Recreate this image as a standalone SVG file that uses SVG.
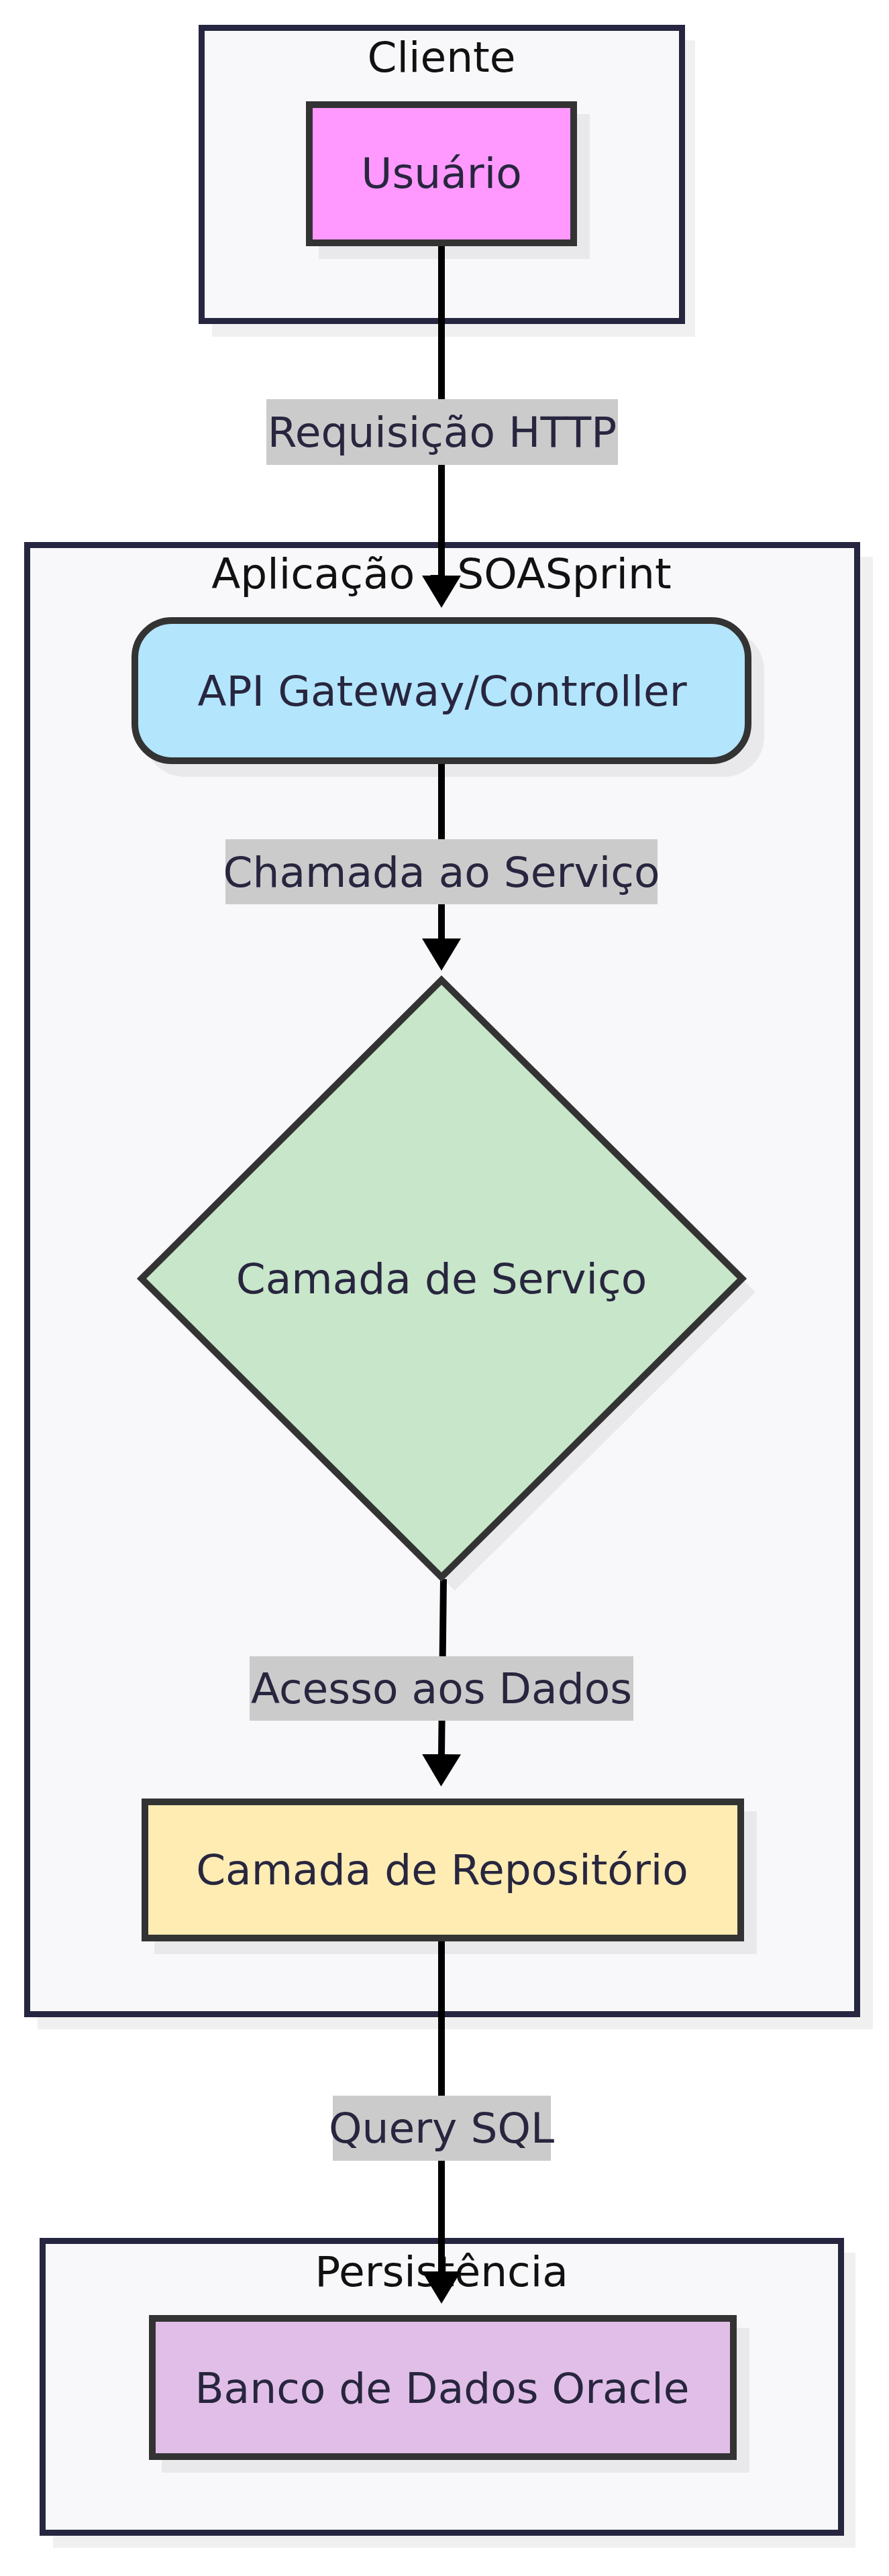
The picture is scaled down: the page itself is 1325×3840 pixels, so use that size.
<svg xmlns="http://www.w3.org/2000/svg" width="1325" height="3840" viewBox="0 0 1325 3840">
<defs>
<style>
.cluster{fill:#f8f8fa;stroke:#262640;stroke-width:9}
.shadow{fill:#000;fill-opacity:0.06}
.node{stroke:#333;stroke-width:10}
.ctitle{font-family:"DejaVu Sans",sans-serif;font-size:63px;fill:#111;text-anchor:middle;dominant-baseline:central}
.ntext{font-family:"DejaVu Sans",sans-serif;font-size:63px;fill:#28263f;text-anchor:middle;dominant-baseline:central}
.edge{fill:none;stroke:#000;stroke-width:10}
.lbg{fill:#cbcbcb}
</style>
<marker id="arrow" markerUnits="userSpaceOnUse" markerWidth="50" markerHeight="60" refX="0" refY="29" orient="auto" viewBox="0 0 50 60">
<path d="M0,0 L48,29 L0,58 Z" fill="#000"/>
</marker>
</defs>
<rect width="1325" height="3840" fill="#ffffff"/>

<g id="cluster-cliente">
<rect class="shadow" x="316" y="60" width="720" height="442"/>
<rect class="cluster" x="300.5" y="41.5" width="716" height="437"/>
<text class="ctitle" x="658" y="85">Cliente</text>
</g>
<g id="cluster-aplicacao">
<rect class="shadow" x="56" y="830" width="1245" height="2195"/>
<rect class="cluster" x="40.5" y="812.5" width="1237" height="2190"/>
<text class="ctitle" x="658" y="855">Aplicação - SOASprint</text>
</g>
<g id="cluster-persistencia">
<rect class="shadow" x="79" y="3358" width="1196" height="440"/>
<rect class="cluster" x="63.5" y="3340.5" width="1190" height="435"/>
<text class="ctitle" x="658" y="3386">Persistência</text>
</g>

<g id="connectors">
<path class="edge" d="M658,362 L658,858" marker-end="url(#arrow)"/>
<path class="edge" d="M658,1135 L658,1399" marker-end="url(#arrow)"/>
<path class="edge" d="M661,2354 L658,2615" marker-end="url(#arrow)"/>
<path class="edge" d="M658,2892 L658,3386" marker-end="url(#arrow)"/>
<g id="label-requisicao">
<rect class="lbg" x="397" y="595" width="524" height="98"/>
<text class="ntext" x="659" y="644">Requisição HTTP</text>
</g>
<g id="label-chamada">
<rect class="lbg" x="336" y="1251" width="644" height="97"/>
<text class="ntext" x="658" y="1300">Chamada ao Serviço</text>
</g>
<g id="label-acesso">
<rect class="lbg" x="372" y="2469" width="572" height="96"/>
<text class="ntext" x="658" y="2517">Acesso aos Dados</text>
</g>
<g id="label-query">
<rect class="lbg" x="496" y="3124" width="325" height="97"/>
<text class="ntext" x="658" y="3172">Query SQL</text>
</g>
</g>

<g id="node-usuario">
<rect class="shadow" x="475" y="170" width="404" height="216"/>
<rect class="node" x="461" y="156" width="394" height="206" fill="#ff99ff"/>
<text class="ntext" x="658" y="258">Usuário</text>
</g>
<g id="node-api">
<rect class="shadow" x="215" y="939" width="924" height="219" rx="60"/>
<rect class="node" x="201" y="925" width="914" height="209" rx="55" fill="#b3e5fc"/>
<text class="ntext" x="659" y="1030">API Gateway/Controller</text>
</g>
<g id="node-servico">
<polygon class="shadow" points="678,1481 1126,1926 678,2371 231,1926"/>
<polygon class="node" points="658,1461 1106,1906 658,2351 211,1906" fill="#c8e6c9"/>
<text class="ntext" x="658" y="1906">Camada de Serviço</text>
</g>
<g id="node-repositorio">
<rect class="shadow" x="230" y="2700" width="898" height="213"/>
<rect class="node" x="216" y="2686" width="888" height="203" fill="#ffecb3"/>
<text class="ntext" x="659" y="2787">Camada de Repositório</text>
</g>
<g id="node-banco">
<rect class="shadow" x="241" y="3470" width="876" height="216"/>
<rect class="node" x="227" y="3456" width="866" height="206" fill="#e1bee7"/>
<text class="ntext" x="659" y="3560">Banco de Dados Oracle</text>
</g>
</svg>
